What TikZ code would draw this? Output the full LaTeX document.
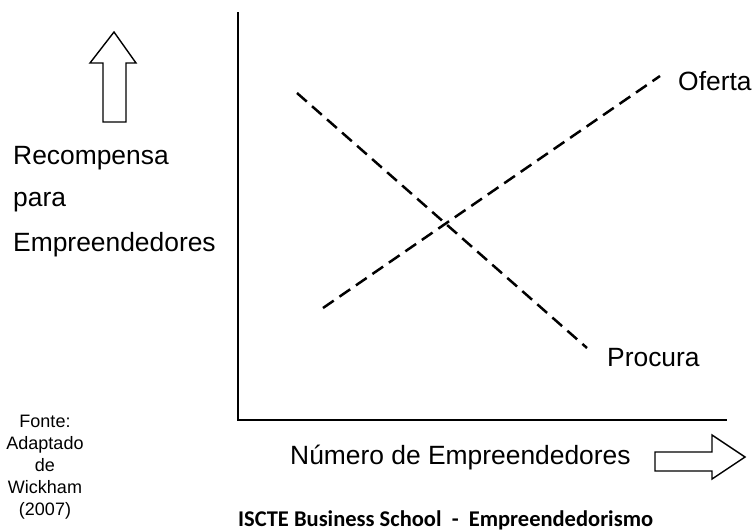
\documentclass[tikz,border=0pt]{standalone}
\usepackage{fontspec}
\setmainfont{Liberation Sans}
\newfontfamily\calfont{Carlito}
\begin{document}
\begin{tikzpicture}[x=1pt,y=-1pt,
  axis/.style={line width=2.4pt},
  curve/.style={line width=2.5pt, dash pattern=on 13pt off 7pt},
  fatarrow/.style={line width=1.4pt, line join=miter},
  lbl/.style={inner sep=0pt, font=\fontsize{26.4}{30}\selectfont},
  src/.style={inner sep=0pt, align=center, font=\fontsize{18}{22}\selectfont},
  foot/.style={inner sep=0pt, font=\calfont\bfseries\fontsize{22.5}{26}\selectfont}]
\useasboundingbox (0,0) rectangle (754,531);
% axes
\coordinate (top) at (238,12);
\coordinate (org) at (238,420);
\coordinate (right) at (727,420);
\draw[axis] (top) -- (org) -- (right);
% curves
\coordinate (p1) at (297,93);
\coordinate (p2) at (587,348);
\coordinate (o1) at (323,308);
\coordinate (o2) at (660,76);
\draw[curve] (p1) -- (p2);
\draw[curve] (o1) -- (o2);
\node[lbl, anchor=west] (oferta) at (678,81) {Oferta};
\node[lbl, anchor=west] (procura) at (607,358) {Procura};
% y label
\node[lbl, anchor=west] (l1) at (13,158) {Recompensa};
\node[lbl, anchor=west] (l2) at (13,202) {para};
\node[lbl, anchor=west] (l3) at (13,245) {Empreendedores};
% up arrow
\draw[fatarrow] (103,122) -- (103,63) -- (90,63) -- (114,32) -- (136,63) -- (126,63) -- (126,122) -- cycle;
% x label
\node[lbl, anchor=west] (xl) at (290,458) {Número de Empreendedores};
% right arrow
\draw[fatarrow] (655,452) -- (712,452) -- (712,435) -- (745,457) -- (712,479) -- (712,471) -- (655,471) -- cycle;
% source
\node[src] (fonte) at (45,467) {Fonte:\\Adaptado\\de\\Wickham\\(2007)};
% footer
\node[foot, anchor=base west] (footer) at (238,526.5) {ISCTE Business School\ \ -\ \ Empreendedorismo};
\end{tikzpicture}
\end{document}
